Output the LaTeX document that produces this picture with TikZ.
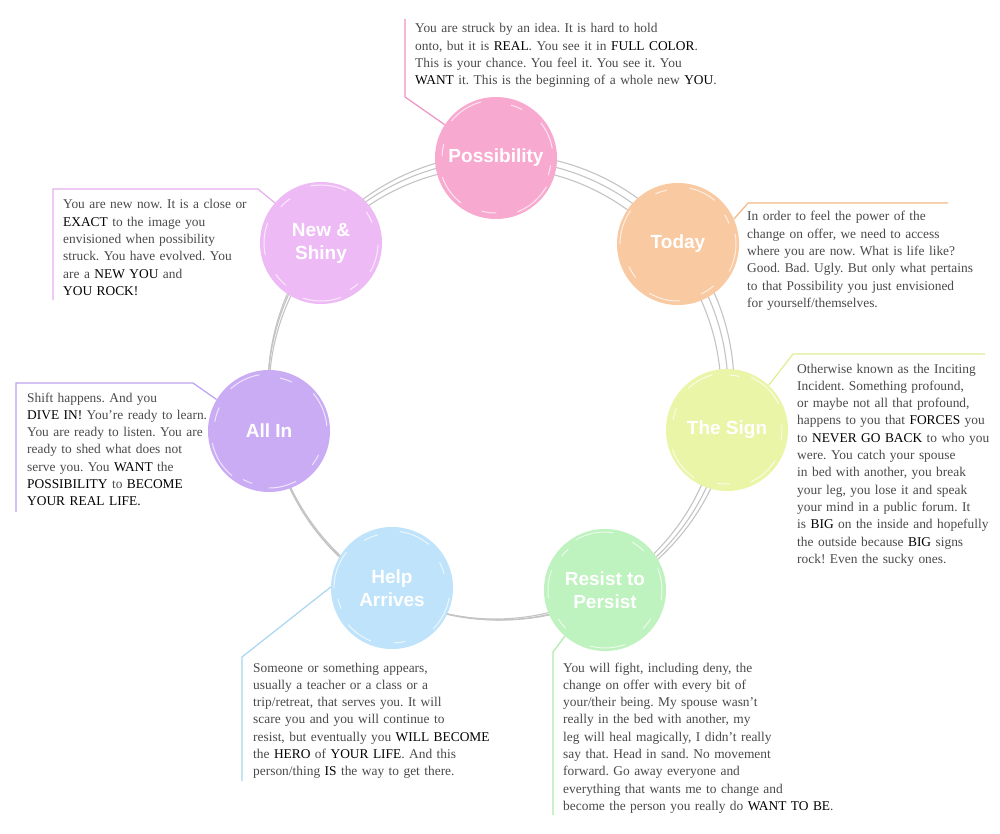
\documentclass[tikz,border=0pt]{standalone}
\usepackage{fontspec}
\usetikzlibrary{calc}
\setmainfont{Liberation Serif}
\newfontfamily\lblfont{Liberation Sans}
\definecolor{bodytxt}{HTML}{4A4A4A}
\definecolor{ringgray}{HTML}{C4C4C4}
\definecolor{cPos}{HTML}{F8A9D0}
\definecolor{lPos}{HTML}{EE92C2}
\definecolor{cToday}{HTML}{F9C9A1}
\definecolor{lToday}{HTML}{F4BA86}
\definecolor{cSign}{HTML}{EBF5A8}
\definecolor{lSign}{HTML}{E0EE94}
\definecolor{cResist}{HTML}{BEF2BE}
\definecolor{lResist}{HTML}{AEEAAE}
\definecolor{cHelp}{HTML}{BEE3FA}
\definecolor{lHelp}{HTML}{A9D6F0}
\definecolor{cAll}{HTML}{CAACF5}
\definecolor{lAll}{HTML}{BFA0EE}
\definecolor{cNew}{HTML}{EEBAF6}
\definecolor{lNew}{HTML}{E6AEF0}
\newcommand{\hl}[1]{\textcolor{black}{#1}}
\frenchspacing
\tikzset{
  ring/.style={draw=ringgray, line width=1.1pt},
  stage/.style={circle, minimum size=122pt, inner sep=0pt, fill=#1,
    font=\lblfont\bfseries\fontsize{19}{23}\selectfont, text=white, align=center},
  brush/.style={draw=white, line width=1pt, opacity=0.7, line cap=round},
  txt/.style={anchor=base west, inner sep=0pt, align=left, text=bodytxt,
    font=\fontsize{13.4}{17.3}\selectfont, text width=#1},
  callout/.style={draw=#1, line width=1.2pt}
}
\begin{document}
\begin{tikzpicture}[x=1pt,y=-1pt]
\useasboundingbox[fill=white] (0,0) rectangle (1000,834);
% ring strokes
\draw[ring] (498,390) circle [radius=230pt];
\draw[ring] (501,387) circle [radius=233pt];
\draw[ring] (495,393) circle [radius=226pt];

% stage circles
\node[stage=cPos]    (p) at (496,158) {Possibility};
\node[stage=cToday]  (t) at (678,244) {Today};
\node[stage=cSign]   (s) at (727,430) {The Sign};
\node[stage=cResist] (r) at (605,590) {Resist to\\Persist};
\node[stage=cHelp]   (h) at (392,588) {Help\\Arrives};
\node[stage=cAll]    (a) at (269,431) {All In};
\node[stage=cNew]    (n) at (321,243) {New \&\\Shiny};

% brush texture: short white streaks near each rim
\foreach \c/\o in {p/0,t/40,s/95,r/150,h/210,a/260,n/320}{
  \foreach \a/\b/\rr in {10/38/57, 62/74/55, 105/140/58, 165/178/54, 200/232/57, 255/270/55, 292/330/58, 342/352/55}{
    \draw[brush] ($(\c.center)+({\a+\o}:\rr pt)$) arc[start angle=\a+\o, end angle=\b+\o, radius=\rr pt];
  }
}

% callout coordinates
\coordinate (pA) at (405,97);  \coordinate (pB) at (405,19);
\coordinate (tA) at (748,203); \coordinate (tB) at (948,203);
\coordinate (sA) at (793,354); \coordinate (sB) at (985,354);
\coordinate (nA) at (258,189); \coordinate (nB) at (53,189);  \coordinate (nC) at (53,300);
\coordinate (aA) at (193,383); \coordinate (aB) at (16,383);  \coordinate (aC) at (16,512);
\coordinate (hA) at (242,657); \coordinate (hB) at (242,781);
\coordinate (rA) at (553,652); \coordinate (rB) at (553,815);

\draw[callout=lPos]    (p.147) -- (pA) -- (pB);
\draw[callout=lToday]  (t.24)  -- (tA) -- (tB);
\draw[callout=lSign]   (s.47)  -- (sA) -- (sB);
\draw[callout=lNew]    (n.139) -- (nA) -- (nB) -- (nC);
\draw[callout=lAll]    (a.149) -- (aA) -- (aB) -- (aC);
\draw[callout=lHelp]   (h.179) -- (hA) -- (hB);
\draw[callout=lResist] (r.229) -- (rA) -- (rB);

% texts
\node[txt=340pt] (tp) at (415,33) {You are struck by an idea. It is hard to hold\\
onto, but it is \hl{REAL}. You see it in \hl{FULL COLOR}.\\
This is your chance. You feel it. You see it. You\\
\hl{WANT} it. This is the beginning of a whole new \hl{YOU}.};

\node[txt=250pt] (tt) at (747,221) {In order to feel the power of the\\
change on offer, we need to access\\
where you are now. What is life like?\\
Good. Bad. Ugly. But only what pertains\\
to that Possibility you just envisioned\\
for yourself/themselves.};

\node[txt=250pt] (ts) at (797,373) {Otherwise known as the Inciting\\
Incident. Something profound,\\
or maybe not all that profound,\\
happens to you that \hl{FORCES} you\\
to \hl{NEVER GO BACK} to who you\\
were. You catch your spouse\\
in bed with another, you break\\
your leg, you lose it and speak\\
your mind in a public forum. It\\
is \hl{BIG} on the inside and hopefully\\
the outside because \hl{BIG} signs\\
rock! Even the sucky ones.};

\node[txt=250pt] (tn) at (63,209) {You are new now. It is a close or\\
\hl{EXACT} to the image you\\
envisioned when possibility\\
struck. You have evolved. You\\
are a \hl{NEW YOU} and\\
\hl{YOU ROCK!}};

\node[txt=250pt] (ta) at (27,402) {Shift happens. And you\\
\hl{DIVE IN!} You’re ready to learn.\\
You are ready to listen. You are\\
ready to shed what does not\\
serve you. You \hl{WANT} the\\
\hl{POSSIBILITY} to \hl{BECOME}\\
\hl{YOUR REAL LIFE.}};

\node[txt=300pt] (th) at (253,672) {Someone or something appears,\\
usually a teacher or a class or a\\
trip/retreat, that serves you. It will\\
scare you and you will continue to\\
resist, but eventually you \hl{WILL BECOME}\\
the \hl{HERO} of \hl{YOUR LIFE}. And this\\
person/thing \hl{IS} the way to get there.};

\node[txt=320pt] (tr) at (563,672) {You will fight, including deny, the\\
change on offer with every bit of\\
your/their being. My spouse wasn’t\\
really in the bed with another, my\\
leg will heal magically, I didn’t really\\
say that. Head in sand. No movement\\
forward. Go away everyone and\\
everything that wants me to change and\\
become the person you really do \hl{WANT TO BE}.};
\end{tikzpicture}
\end{document}
